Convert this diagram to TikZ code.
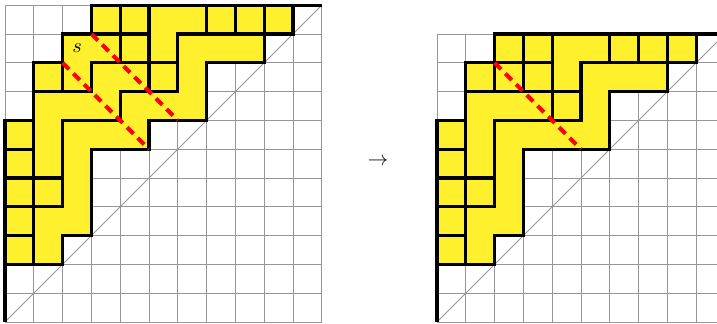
\documentclass[tikz,border=0pt]{standalone}
\definecolor{ylw}{RGB}{255,240,45}
\definecolor{gridgray}{RGB}{150,150,150}
\tikzset{
  gridline/.style={draw=gridgray, line width=0.5pt},
  diagline/.style={draw=gridgray, line width=0.45pt},
  piece/.style={fill=ylw, draw=black, line width=1.5pt, line join=miter},
  dyck/.style={draw=black, line width=1.5pt, line join=miter},
  cut/.style={draw=red, line width=2pt, dash pattern=on 4.5pt off 3pt},
}
\begin{document}
\begin{tikzpicture}[x=0.5cm,y=0.5cm]
\path[use as bounding box, clip] (-0.174,-0.069) rectangle (24.722,11.181);
% ---------- left figure ----------
\draw[gridline, step=0.5cm] (0,0) grid (11,11);
\draw[diagline] (0,0) -- (11,11);
\foreach \p in {(0,2),(0,3),(0,4),(0,5),(0,6),(1,4),(1,8),(4,9),(5,8),(3,10),(4,10),(7,10),(8,10),(9,10)}
  \draw[piece] \p rectangle ++(1,1);
\draw[piece] (1,5) -- (2,5) -- (2,7) -- (4,7) -- (4,8) -- (5,8) -- (5,9) -- (3,9) -- (3,8) -- (1,8) -- cycle;
\draw[piece] (2,8) -- (3,8) -- (3,9) -- (4,9) -- (4,10) -- (2,10) -- cycle;
\draw[piece] (5,9) -- (6,9) -- (6,10) -- (7,10) -- (7,11) -- (5,11) -- cycle;
\draw[piece] (1,2) -- (2,2) -- (2,3) -- (3,3) -- (3,6) -- (5,6) -- (5,7) -- (7,7) -- (7,9) -- (9,9) -- (9,10) -- (6,10) -- (6,8) -- (4,8) -- (4,7) -- (2,7) -- (2,4) -- (1,4) -- cycle;
\draw[dyck] (0,0) -- (0,7) -- (1,7) -- (1,9) -- (2,9) -- (2,10) -- (3,10) -- (3,11) -- (11,11);
\draw[cut] (2,9) -- (5,6);
\draw[cut] (3,10) -- (6,7);
\node (slabel) at (2.5,9.5) {$s$};
% ---------- arrow ----------
\node (arrow) at (12.95,5.56) {$\to$};
% ---------- right figure ----------
\begin{scope}[xshift=7.5cm]
\draw[gridline, step=0.5cm] (0,0) grid (10,10);
\draw[diagline] (0,0) -- (10,10);
\foreach \p in {(0,2),(0,3),(0,4),(0,5),(0,6),(1,4),(1,8),(2,8),(3,8),(2,9),(3,9),(4,7),(6,9),(7,9),(8,9)}
  \draw[piece] \p rectangle ++(1,1);
\draw[piece] (1,5) -- (2,5) -- (2,7) -- (4,7) -- (4,8) -- (1,8) -- cycle;
\draw[piece] (4,8) -- (5,8) -- (5,9) -- (6,9) -- (6,10) -- (4,10) -- cycle;
\draw[piece] (1,2) -- (2,2) -- (2,3) -- (3,3) -- (3,6) -- (6,6) -- (6,8) -- (8,8) -- (8,9) -- (5,9) -- (5,7) -- (2,7) -- (2,4) -- (1,4) -- cycle;
\draw[dyck] (0,0) -- (0,7) -- (1,7) -- (1,9) -- (2,9) -- (2,10) -- (10,10);
\draw[cut] (2,9) -- (5,6);
\end{scope}
\end{tikzpicture}
\end{document}
